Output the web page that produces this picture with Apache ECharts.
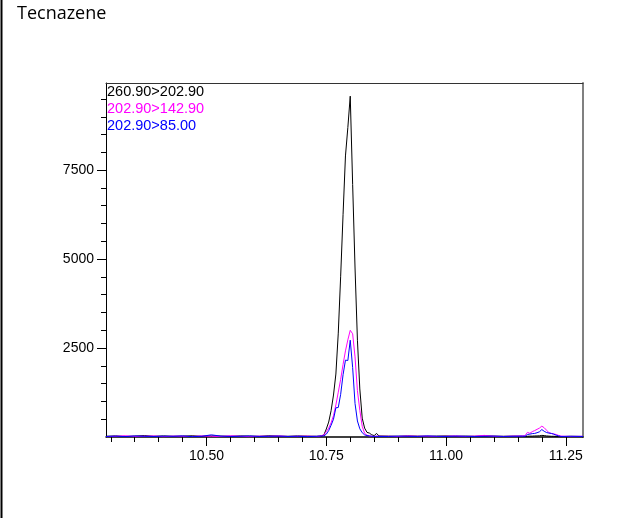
<!DOCTYPE html>
<html>
<head>
<meta charset="utf-8">
<script src="https://cdn.jsdelivr.net/npm/echarts@6/dist/echarts.min.js"></script>
<style>
  body { margin: 0; background: #fff; }
  #chromatogram { width: 621px; height: 518px; background-color: #fff; }
</style>
</head>
<body>
<div id="chromatogram"></div>
<script>
  // retention time (min)
  const times = [
    10.29, 10.31, 10.33, 10.35, 10.37, 10.39, 10.41, 10.43, 10.45, 10.47, 10.49, 10.51,
    10.53, 10.55, 10.57, 10.59, 10.61, 10.63, 10.65, 10.67, 10.69, 10.71, 10.73,
    10.735, 10.74, 10.745, 10.75, 10.755, 10.76, 10.765, 10.77, 10.775, 10.78, 10.785,
    10.79, 10.795, 10.80, 10.805, 10.81, 10.815, 10.82, 10.825, 10.83, 10.835, 10.84,
    10.845, 10.85, 10.855, 10.86,
    10.88, 10.90, 10.92, 10.94, 10.96, 10.98, 11.00, 11.02, 11.04, 11.06, 11.08, 11.10,
    11.12, 11.14, 11.16,
    11.165, 11.17, 11.175, 11.18, 11.185, 11.19, 11.195, 11.20, 11.205, 11.21, 11.215,
    11.22, 11.225, 11.23, 11.235, 11.24,
    11.26, 11.286
  ]

  const seriesNames = ['260.90>202.90', '202.90>142.90', '202.90>85.00']
  const seriesColors = ['#000000', '#ff00ff', '#0000ff']

  const black = [
    20, 30, 15, 25, 40, 20, 30, 20, 25, 35, 20, 30, 25, 20, 30, 25, 20, 35, 25, 20, 30, 25, 20,
    25, 30, 60, 225, 420, 740, 1180, 1770, 2920, 4520, 6260, 7900, 8700, 9580, 7100, 4750,
    2720, 1350, 530, 250, 130, 110, 60, 40, 100, 30,
    25, 20, 30, 25, 20, 25, 30, 20, 25, 20, 30, 25, 20, 25, 20,
    15, 20, 25, 25, 30, 30, 35, 45, 40, 30, 25, 20, 20, 15, 15, 10,
    20, 15
  ]
  const magenta = [
    10, 20, 35, 15, 20, 30, 10, 25, 20, 15, 30, 20, 15, 35, 20, 10, 25, 20, 30, 15, 20, 25, 15,
    20, 40, 60, 150, 250, 400, 600, 900, 1260, 1620, 2040, 2420, 2730, 3000, 2900, 2250,
    1300, 750, 300, 100, 50, 30, 20, 15, 25, 20,
    20, 15, 30, 20, 25, 15, 20, 30, 15, 25, 45, 20, 15, 25, 30,
    40, 130, 105, 150, 180, 215, 250, 305, 260, 190, 120, 100, 85, 70, 45, 25,
    15, 20
  ]
  const blue = [
    15, 25, 10, 30, 20, 15, 25, 20, 30, 10, 20, 60, 25, 15, 20, 30, 15, 20, 25, 15, 20, 10, 20,
    25, 30, 30, 80, 180, 330, 500, 820, 830, 1200, 1750, 2160, 2150, 2720, 1950, 940,
    450, 230, 120, 60, 40, 30, 20, 15, 20, 15,
    15, 25, 20, 15, 30, 20, 15, 25, 20, 15, 20, 25, 15, 20, 25,
    20, 70, 80, 95, 100, 120, 145, 210, 160, 125, 110, 100, 80, 50, 30, 15,
    20, 15
  ]

  const xMinorTicks = [10.30, 10.35, 10.40, 10.45, 10.50, 10.55, 10.60, 10.65, 10.70, 10.75,
    10.80, 10.85, 10.90, 10.95, 11.00, 11.05, 11.10, 11.15, 11.20, 11.25]
  const xLabels = [10.50, 10.75, 11.00, 11.25]
  const yMinorTicks = [500, 1000, 1500, 2000, 2500, 3000, 3500, 4000, 4500, 5000,
    5500, 6000, 6500, 7000, 7500, 8000, 8500, 9000, 9500]
  const yLabels = [2500, 5000, 7500]

  const xMin = 10.29, xMax = 11.286
  const yMin = 0, yMax = 9950

  let chartDom = document.getElementById('chromatogram')
  let myChart = echarts.init(chartDom)
  let option

  const trace = [black, magenta, blue]
  const font = 'Liberation Sans, Arial, sans-serif'

  option = {
    animation: false,
    title: {
      text: 'Tecnazene',
      left: 17,
      top: 5,
      padding: 0,
      textStyle: { fontFamily: 'Open Sans', fontSize: 18, fontWeight: 'normal', color: '#000' }
    },
    legend: {
      orient: 'vertical',
      left: 102,
      top: 84,
      padding: 0,
      icon: 'none',
      itemWidth: 0,
      itemHeight: 0,
      itemGap: 2,
      selectedMode: false,
      textStyle: { fontFamily: font, fontSize: 14.5, lineHeight: 14 },
      data: seriesNames.map((name, i) => ({ name: name, textStyle: { color: seriesColors[i] } }))
    },
    graphic: [
      {
        type: 'line',
        shape: { x1: 1.5, y1: 0, x2: 1.5, y2: 518 },
        style: { stroke: '#000', lineWidth: 2 }
      }
    ],
    grid: {
      left: 106,
      right: 38,
      top: 83,
      bottom: 81
    },
    xAxis: [
      {
        type: 'value',
        position: 'bottom',
        min: xMin,
        max: xMax,
        splitLine: { show: false },
        axisLine: { show: true, onZero: false, lineStyle: { color: '#000', width: 1.5 } },
        axisTick: { show: true, customValues: xMinorTicks, length: 5, lineStyle: { color: '#000' } },
        axisLabel: {
          customValues: xLabels,
          formatter: v => v.toFixed(2),
          fontFamily: font,
          fontSize: 14,
          color: '#000',
          margin: 12
        }
      },
      {
        type: 'value',
        position: 'bottom',
        min: xMin,
        max: xMax,
        splitLine: { show: false },
        axisLine: { show: false, onZero: false },
        axisTick: { show: true, customValues: xLabels, length: 9, lineStyle: { color: '#000' } },
        axisLabel: { show: false }
      },
      {
        type: 'value',
        position: 'top',
        min: xMin,
        max: xMax,
        splitLine: { show: false },
        axisLine: { show: true, onZero: false, lineStyle: { color: '#333', width: 1 } },
        axisTick: { show: false },
        axisLabel: { show: false }
      }
    ],
    yAxis: [
      {
        type: 'value',
        position: 'left',
        min: yMin,
        max: yMax,
        splitLine: { show: false },
        axisLine: { show: true, onZero: false, lineStyle: { color: '#000', width: 1 } },
        axisTick: { show: true, customValues: yMinorTicks, length: 5, lineStyle: { color: '#000' } },
        axisLabel: {
          customValues: yLabels,
          formatter: v => String(v),
          fontFamily: font,
          fontSize: 14,
          color: '#000',
          margin: 12
        }
      },
      {
        type: 'value',
        position: 'left',
        min: yMin,
        max: yMax,
        splitLine: { show: false },
        axisLine: { show: false, onZero: false },
        axisTick: { show: true, customValues: yLabels, length: 9, lineStyle: { color: '#000' } },
        axisLabel: { show: false }
      },
      {
        type: 'value',
        position: 'right',
        min: yMin,
        max: yMax,
        splitLine: { show: false },
        axisLine: { show: true, onZero: false, lineStyle: { color: '#808080', width: 2 } },
        axisTick: { show: false },
        axisLabel: { show: false }
      }
    ],
    series: seriesNames.map((name, i) => ({
      name: name,
      type: 'line',
      xAxisIndex: 0,
      yAxisIndex: 0,
      showSymbol: false,
      color: seriesColors[i],
      lineStyle: { width: 1, color: seriesColors[i] },
      data: times.map((t, k) => [t, trace[i][k]])
    }))
  }
  option && myChart.setOption(option)
</script>
</body>
</html>
